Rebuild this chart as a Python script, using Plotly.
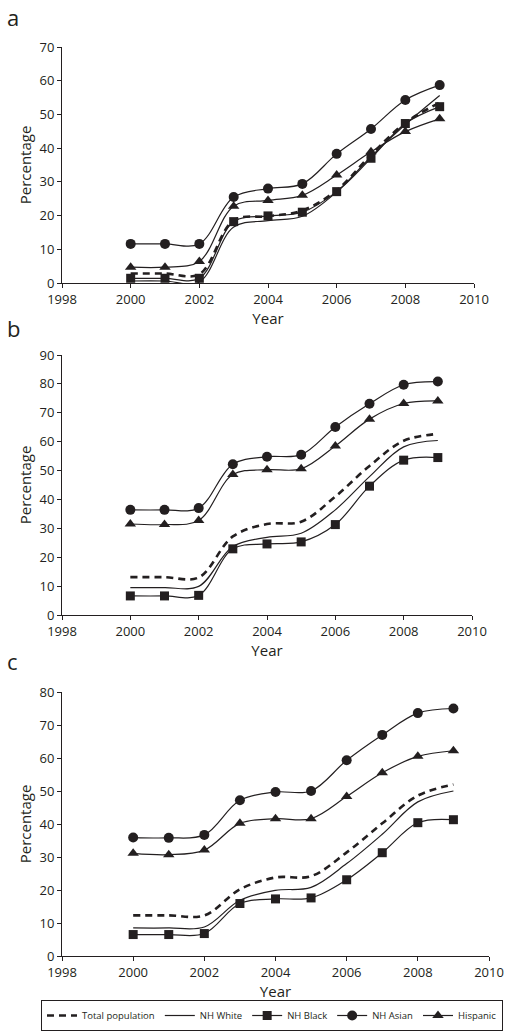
import plotly.graph_objects as go

years = [2000, 2001, 2002, 2003, 2004, 2005, 2006, 2007, 2008, 2009]
series_names = ["Total population", "NH White", "NH Black", "NH Asian", "Hispanic"]

# Panel a
a_total = [2.8, 2.8, 2.6, 18.6, 19.8, 21.5, 27.5, 38.0, 47.5, 53.5]
a_white = [0.6, 0.6, 0.3, 16.6, 18.5, 19.8, 27.0, 37.5, 47.0, 55.6]
a_black = [1.4, 1.4, 1.4, 18.2, 19.9, 21.0, 27.1, 37.0, 47.3, 52.3]
a_asian = [11.6, 11.6, 11.6, 25.5, 28.0, 29.4, 38.3, 45.7, 54.3, 58.7]
a_hisp = [4.7, 4.7, 6.4, 22.8, 24.5, 26.0, 32.0, 38.9, 44.9, 48.7]

# Panel b
b_total = [13.1, 13.1, 13.0, 27.2, 31.5, 32.3, 41.0, 51.6, 60.3, 62.7]
b_white = [9.5, 9.5, 9.9, 23.7, 26.9, 28.3, 36.4, 47.9, 58.2, 60.4]
b_black = [6.6, 6.6, 6.8, 22.9, 24.6, 25.3, 31.3, 44.6, 53.6, 54.5]
b_asian = [36.4, 36.4, 37.0, 52.2, 54.8, 55.5, 65.1, 73.1, 79.7, 80.8]
b_hisp = [31.5, 31.3, 32.7, 48.6, 50.3, 50.6, 58.5, 67.8, 73.2, 74.1]

# Panel c
c_total = [12.3, 12.3, 12.3, 20.2, 23.8, 24.2, 31.4, 40.2, 48.6, 52.0]
c_white = [8.5, 8.5, 8.8, 16.9, 19.9, 20.8, 28.0, 36.9, 46.7, 50.0]
c_black = [6.5, 6.5, 6.8, 15.9, 17.3, 17.6, 23.1, 31.3, 40.4, 41.3]
c_asian = [35.9, 35.8, 36.7, 47.2, 49.7, 50.0, 59.3, 67.0, 73.6, 75.0]
c_hisp = [31.1, 30.7, 32.1, 40.2, 41.6, 41.6, 48.3, 55.5, 60.5, 62.2]

panels = [
    ("a", [a_total, a_white, a_black, a_asian, a_hisp], 70),
    ("b", [b_total, b_white, b_black, b_asian, b_hisp], 90),
    ("c", [c_total, c_white, c_black, c_asian, c_hisp], 80),
]

W, H = 512, 1035
# plot areas in pixels: (x0, x1, ytop, ybottom)
boxes = [(62, 474, 47, 283), (62, 472, 355, 615), (62, 489, 692, 956)]
label_centers = [17, 328, 661]

ink = "#231f20"
styles = [
    dict(mode="lines", line=dict(color=ink, width=2.6, dash="7px,5px", shape="spline", smoothing=1)),
    dict(mode="lines", line=dict(color=ink, width=1.2, shape="spline", smoothing=1)),
    dict(mode="lines+markers", line=dict(color=ink, width=1.2, shape="spline", smoothing=1),
         marker=dict(symbol="square", size=9, color=ink)),
    dict(mode="lines+markers", line=dict(color=ink, width=1.2, shape="spline", smoothing=1),
         marker=dict(symbol="circle", size=10, color=ink)),
    dict(mode="lines+markers", line=dict(color=ink, width=1.2, shape="spline", smoothing=1),
         marker=dict(symbol="triangle-up", size=10, color=ink)),
]

fig = go.Figure()
font = "Open Sans"

for i, (label, data, ymax) in enumerate(panels):
    x0, x1, yt, yb = boxes[i]
    xa = "xaxis" if i == 0 else f"xaxis{i+1}"
    ya = "yaxis" if i == 0 else f"yaxis{i+1}"
    xref = "x" if i == 0 else f"x{i+1}"
    yref = "y" if i == 0 else f"y{i+1}"
    for j, vals in enumerate(data):
        fig.add_trace(go.Scatter(
            x=years, y=vals, name=series_names[j], xaxis=xref, yaxis=yref,
            showlegend=(i == 0), **styles[j]))
    axis_common = dict(showline=True, linecolor=ink, linewidth=1, ticks="outside",
                       ticklen=4, tickcolor=ink, showgrid=False, zeroline=False,
                       tickfont=dict(family=font, size=13, color=ink))
    fig.update_layout(**{
        xa: dict(domain=[x0 / W, x1 / W], anchor=yref, range=[1998, 2010], dtick=2,
                 title=dict(text="Year", font=dict(family=font, size=15, color=ink), standoff=2),
                 **axis_common),
        ya: dict(domain=[1 - yb / H, 1 - yt / H], anchor=xref, range=[0, ymax], dtick=10,
                 title=dict(text="Percentage", font=dict(family=font, size=15, color=ink), standoff=4),
                 **axis_common),
    })
    fig.add_annotation(text=label, xref="paper", yref="paper",
                       x=5 / W, y=1 - label_centers[i] / H,
                       xanchor="left", yanchor="middle", showarrow=False,
                       font=dict(family=font, size=22, color=ink))

fig.update_layout(
    width=W, height=H, margin=dict(l=0, r=0, t=0, b=0, autoexpand=False),
    plot_bgcolor="white", paper_bgcolor="white",
    legend=dict(orientation="h", x=41 / W, y=1 - 1000 / H, xanchor="left", yanchor="top",
                bordercolor=ink, borderwidth=1, font=dict(family=font, size=9.5, color=ink),
                itemwidth=30, tracegroupgap=0),
)

fig.write_html("out.html", config={"displayModeBar": False},
               post_script="document.body.style.margin='0';document.body.style.overflow='hidden';")
